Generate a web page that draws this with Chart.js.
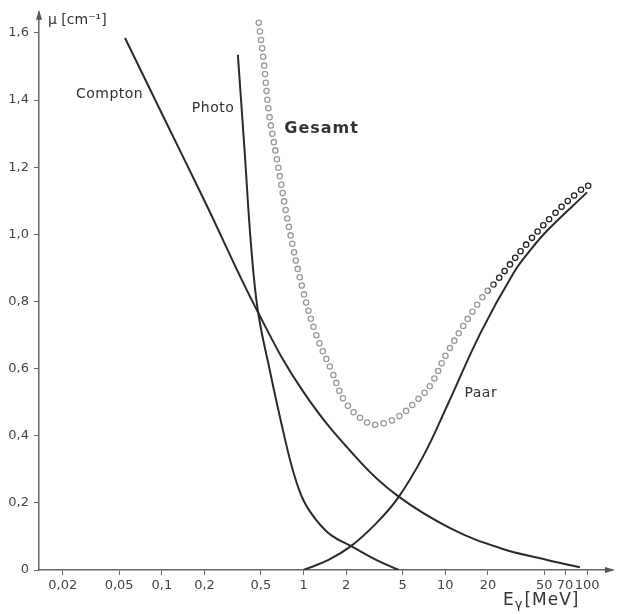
<!DOCTYPE html>
<html>
<head>
<meta charset="utf-8">
<script src="https://cdn.jsdelivr.net/npm/chart.js@4.4.1/dist/chart.umd.min.js"></script>
<style>
  html, body { margin: 0; padding: 0; background: #fff; }
  #wrap { width: 617px; height: 614px; }
</style>
</head>
<body>
<div id="wrap"><canvas id="chart" width="617" height="614"></canvas></div>
<script>
const comptonE  = [0.055, 0.1, 0.2, 0.47, 1.0, 2.51, 4.64, 10.9, 24.5, 50, 89];
const comptonMu = [1.585, 1.36, 1.10, 0.773, 0.53, 0.322, 0.22, 0.124, 0.065, 0.032, 0.008];

const photoE  = [0.344, 0.385, 0.425, 0.476, 0.577, 0.724, 0.851, 1.0, 1.234, 1.572, 2.17, 3.25, 4.7];
const photoMu = [1.535, 1.24, 0.974, 0.773, 0.596, 0.407, 0.289, 0.207, 0.148, 0.103, 0.071, 0.030, 0.0];

const paarE  = [1.0, 1.5, 2.17, 3.2, 4.64, 7.07, 10.4, 17.8, 30.3, 39.8, 52, 100];
const paarMu = [0.0, 0.03, 0.072, 0.136, 0.215, 0.343, 0.493, 0.708, 0.885, 0.953, 1.01, 1.125];

const gesamtE  = [0.483, 0.524, 0.568, 0.646, 0.79, 0.984, 1.23, 1.57, 2.0, 2.86, 3.36, 4.5, 6.4, 7.9, 10.4, 17.8, 23.4, 38, 57.6, 89, 105];
const gesamtMu = [1.63, 1.514, 1.367, 1.228, 1.02, 0.838, 0.70, 0.596, 0.496, 0.437, 0.434, 0.452, 0.508, 0.552, 0.65, 0.806, 0.865, 0.974, 1.057, 1.13, 1.148];

const xTicks = [0.02, 0.05, 0.1, 0.2, 0.5, 1, 2, 5, 10, 20, 50, 70, 100];
const yTicks = [0, 0.2, 0.4, 0.6, 0.8, 1.0, 1.2, 1.4, 1.6];

const curveLabels = [
    { text: 'Compton', x: 0.0428, y: 1.417, bold: false },
    { text: 'Photo',   x: 0.23,   y: 1.376, bold: false },
    { text: 'Gesamt',  x: 1.34,   y: 1.314, bold: true },
    { text: 'Paar',    x: 17.8,   y: 0.525, bold: false }
];

const pts = (xs, ys) => xs.map((x, i) => ({ x: x, y: ys[i] }));
const FONT = '"DejaVu Sans", sans-serif';
const INK = '#2a2a2a';

// Kreise der Gesamtkurve: grau, im oberen Bereich dunkler
function ringColor(context) {
    const chart = context.chart;
    if (!chart.chartArea) return '#9a9a9a';
    const xs = chart.scales.x;
    const g = chart.ctx.createLinearGradient(xs.getPixelForValue(19), 0, xs.getPixelForValue(23), 0);
    g.addColorStop(0, '#9a9a9a');
    g.addColorStop(1, '#222');
    return g;
}

const lineStyle = {
    borderColor: INK,
    borderWidth: 2,
    pointRadius: 0,
    fill: false,
    tension: 0.4,
    order: 0
};

const ringStyle = {
    borderDash: [0, 8.6],
    borderCapStyle: 'round',
    pointRadius: 0,
    fill: false,
    tension: 0.4
};

const decoPlugin = {
    id: 'deco',
    afterDraw(chart) {
        const ctx = chart.ctx;
        const a = chart.chartArea;
        const xs = chart.scales.x, ys = chart.scales.y;
        ctx.save();
        // Pfeile
        ctx.fillStyle = '#555';
        ctx.beginPath();
        ctx.moveTo(a.left, a.top - 3);
        ctx.lineTo(a.left - 3, a.top + 7);
        ctx.lineTo(a.left + 3, a.top + 7);
        ctx.closePath();
        ctx.fill();
        ctx.beginPath();
        ctx.moveTo(a.right + 3, a.bottom);
        ctx.lineTo(a.right - 7, a.bottom - 3);
        ctx.lineTo(a.right - 7, a.bottom + 3);
        ctx.closePath();
        ctx.fill();

        // Kurvenbeschriftung
        ctx.fillStyle = '#333';
        ctx.textAlign = 'center';
        ctx.textBaseline = 'middle';
        curveLabels.forEach(l => {
            ctx.font = (l.bold ? 'bold 16px ' : '14px ') + FONT;
            ctx.letterSpacing = l.bold ? '1px' : '0.5px';
            ctx.fillText(l.text, xs.getPixelForValue(l.x), ys.getPixelForValue(l.y));
        });

        // Achsentitel
        ctx.letterSpacing = '0px';
        ctx.textAlign = 'left';
        ctx.font = '14px ' + FONT;
        ctx.fillText('\u03bc [cm\u207b\u00b9]', a.left + 9, a.top + 8);

        // E mit tiefgestelltem gamma
        const by = a.bottom + 31;
        let tx = a.right - 109;
        ctx.font = '17px ' + FONT;
        ctx.fillText('E', tx, by);
        tx += ctx.measureText('E').width + 1;
        ctx.font = '13px ' + FONT;
        ctx.fillText('\u03b3', tx, by + 4);
        tx += ctx.measureText('\u03b3').width + 2;
        ctx.font = '17px ' + FONT;
        ctx.letterSpacing = '1px';
        ctx.fillText('[MeV]', tx, by);
        ctx.restore();
    }
};

new Chart(document.getElementById('chart').getContext('2d'), {
    type: 'line',
    data: {
        datasets: [
            Object.assign({ label: 'Compton', data: pts(comptonE, comptonMu) }, lineStyle),
            Object.assign({ label: 'Photo', data: pts(photoE, photoMu) }, lineStyle),
            Object.assign({ label: 'Paar', data: pts(paarE, paarMu) }, lineStyle),
            Object.assign({
                label: 'Gesamt',
                data: pts(gesamtE, gesamtMu),
                borderColor: ringColor,
                borderWidth: 6.6,
                order: 2
            }, ringStyle),
            Object.assign({
                label: 'Gesamt-innen',
                data: pts(gesamtE, gesamtMu),
                borderColor: '#ffffff',
                borderWidth: 4.0,
                order: 1
            }, ringStyle)
        ]
    },
    options: {
        responsive: false,
        animation: false,
        layout: { padding: { top: 8, right: 5, left: 0, bottom: 0 } },
        plugins: {
            legend: { display: false },
            tooltip: { enabled: false }
        },
        scales: {
            x: {
                type: 'logarithmic',
                min: 0.0136,
                max: 150,
                afterFit: s => { s.height = 44; },
                afterBuildTicks: s => { s.ticks = xTicks.map(v => ({ value: v })); },
                border: { display: true, color: '#666', width: 1.5 },
                grid: { drawOnChartArea: false, drawTicks: true, tickLength: 5, color: '#666' },
                ticks: {
                    autoSkip: false,
                    maxRotation: 0,
                    padding: 3,
                    color: '#444',
                    font: { family: FONT, size: 13 },
                    callback: v => String(v).replace('.', ',')
                }
            },
            y: {
                min: 0,
                max: 1.66,
                afterFit: s => { s.width = 39; },
                afterBuildTicks: s => { s.ticks = yTicks.map(v => ({ value: v })); },
                border: { display: true, color: '#666', width: 1.5 },
                grid: { drawOnChartArea: false, drawTicks: true, tickLength: 5, color: '#666' },
                ticks: {
                    padding: 5,
                    color: '#444',
                    font: { family: FONT, size: 13 },
                    callback: v => v === 0 ? '0' : v.toFixed(1).replace('.', ',')
                }
            }
        }
    },
    plugins: [decoPlugin]
});
</script>
</body>
</html>
